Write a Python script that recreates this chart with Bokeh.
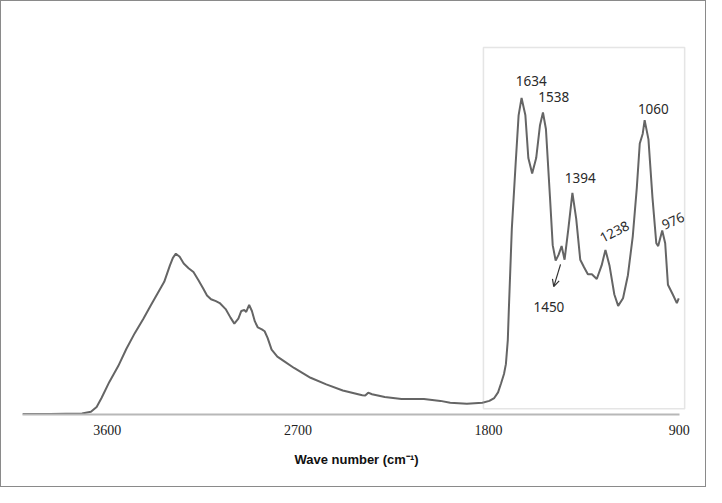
from bokeh.plotting import figure
from bokeh.models import Range1d, BoxAnnotation, Arrow, OpenHead, ColumnDataSource, FixedTicker
from bokeh.core.properties import value
from bokeh.embed import file_html
from bokeh.resources import INLINE

# FTIR spectrum (wavenumber in cm-1, absorbance in a.u.)
wavenumber = [4000, 3871, 3719, 3677, 3650, 3627, 3590, 3548, 3510, 3470, 3430, 3396, 3331,
              3304, 3290, 3276, 3258, 3239, 3216, 3193, 3170, 3147, 3129, 3110, 3087,
              3069, 3041, 3018, 3000, 2981, 2967, 2953, 2944, 2930, 2917, 2903, 2889,
              2870, 2857, 2843, 2824, 2797, 2764, 2718, 2640, 2566, 2488, 2396, 2382,
              2368, 2350, 2290, 2211, 2165, 2105, 2027, 1981, 1902, 1829, 1796, 1773,
              1755, 1741, 1727, 1718, 1709, 1704, 1690, 1672, 1658, 1644, 1626, 1612,
              1594, 1575, 1557, 1543, 1529, 1510, 1497, 1483, 1469, 1455, 1441, 1423,
              1404, 1386, 1367, 1349, 1331, 1312, 1289, 1266, 1248, 1229, 1206, 1188,
              1165, 1142, 1119, 1100, 1086, 1072, 1063, 1045, 1026, 1008, 999, 980,
              966, 953, 930, 911, 902]
absorbance = [0.0015, 0.0015, 0.003, 0.009, 0.024, 0.052, 0.103, 0.153, 0.207, 0.257, 0.302, 0.343, 0.419,
              0.471, 0.495, 0.508, 0.498, 0.477, 0.462, 0.450, 0.425, 0.398, 0.376, 0.364, 0.358,
              0.352, 0.333, 0.306, 0.287, 0.303, 0.327, 0.330, 0.324, 0.346, 0.327, 0.294, 0.275,
              0.269, 0.263, 0.242, 0.205, 0.183, 0.168, 0.147, 0.116, 0.095, 0.076, 0.061, 0.060,
              0.069, 0.064, 0.055, 0.049, 0.049, 0.049, 0.043, 0.037, 0.034, 0.037, 0.043, 0.052,
              0.070, 0.098, 0.128, 0.159, 0.235, 0.333, 0.587, 0.792, 0.945, 1.000, 0.945, 0.810,
              0.761, 0.810, 0.914, 0.954, 0.902, 0.688, 0.535, 0.486, 0.505, 0.532, 0.489, 0.587,
              0.700, 0.618, 0.489, 0.465, 0.443, 0.443, 0.428, 0.471, 0.520, 0.471, 0.379, 0.343,
              0.367, 0.440, 0.563, 0.716, 0.856, 0.887, 0.930, 0.869, 0.685, 0.541, 0.532, 0.581,
              0.541, 0.410, 0.379, 0.352, 0.367]

x_ticks = [3600, 2700, 1800, 900]

# peak labels
peak_labels = ["1634", "1538", "1394", "1060", "1450", "1238", "976"]
label_x = [1598, 1492, 1367, 1022, 1515, 1206, 929]
label_y = [1.052, 1.003, 0.746, 0.966, 0.339, 0.578, 0.612]
label_angle = [0, 0, 0, 0, 0, 0.48, 0.42]

# arrow pointing to the 1450 shoulder
arrow_x = [1460, 1492]
arrow_y = [0.474, 0.404]

# highlighted fingerprint region
box_x = [1824, 874]
box_y = [0.018, 1.159]

p = figure(width=706, height=487, output_backend="svg", toolbar_location=None,
           x_range=Range1d(4000, 846.5), y_range=Range1d(0, 1.273),
           min_border_left=21, min_border_right=17, min_border_top=10, min_border_bottom=74)
p.styles = {"border": "1.5px solid #8a8a8a"}
p.outline_line_color = None
p.grid.visible = False
p.yaxis.visible = False
p.background_fill_color = "white"
p.border_fill_color = "white"

ax = p.xaxis[0]
ax.ticker = FixedTicker(ticks=x_ticks)
ax.bounds = (900, 4000)
ax.axis_line_color = "#b8b8b8"
ax.axis_line_width = 2
ax.major_tick_out = 0
ax.major_tick_in = 0
ax.minor_tick_out = 0
ax.minor_tick_in = 0
ax.major_label_text_font = "Liberation Serif"
ax.major_label_text_font_size = "14px"
ax.major_label_text_color = "#222222"
ax.major_label_standoff = 10
ax.axis_label = "Wave number (cm\u207b\u00b9)"
ax.axis_label_text_font = "Liberation Sans"
ax.axis_label_text_font_style = "bold"
ax.axis_label_text_font_size = "13px"
ax.axis_label_text_color = "#111111"
ax.axis_label_standoff = 14

box = BoxAnnotation(left=box_x[0], right=box_x[1], bottom=box_y[0], top=box_y[1],
                    fill_color=None, fill_alpha=0, line_color="#a8a8a8", line_width=1.5)
p.add_layout(box)

p.line(wavenumber, absorbance, line_color="#656565", line_width=2)

src = ColumnDataSource(dict(x=label_x, y=label_y, t=peak_labels, a=label_angle))
p.text("x", "y", text="t", angle="a", source=src, text_font=value("Noto Sans"),
       text_font_size="13.5px", text_color="#2a2a2a", text_align="center",
       text_baseline="middle")

p.add_layout(Arrow(end=OpenHead(size=7, line_color="#333333", line_width=1.2),
                   x_start=arrow_x[0], y_start=arrow_y[0], x_end=arrow_x[1], y_end=arrow_y[1],
                   line_color="#333333", line_width=1.2))

open("out.html", "w").write(file_html(p, INLINE))
